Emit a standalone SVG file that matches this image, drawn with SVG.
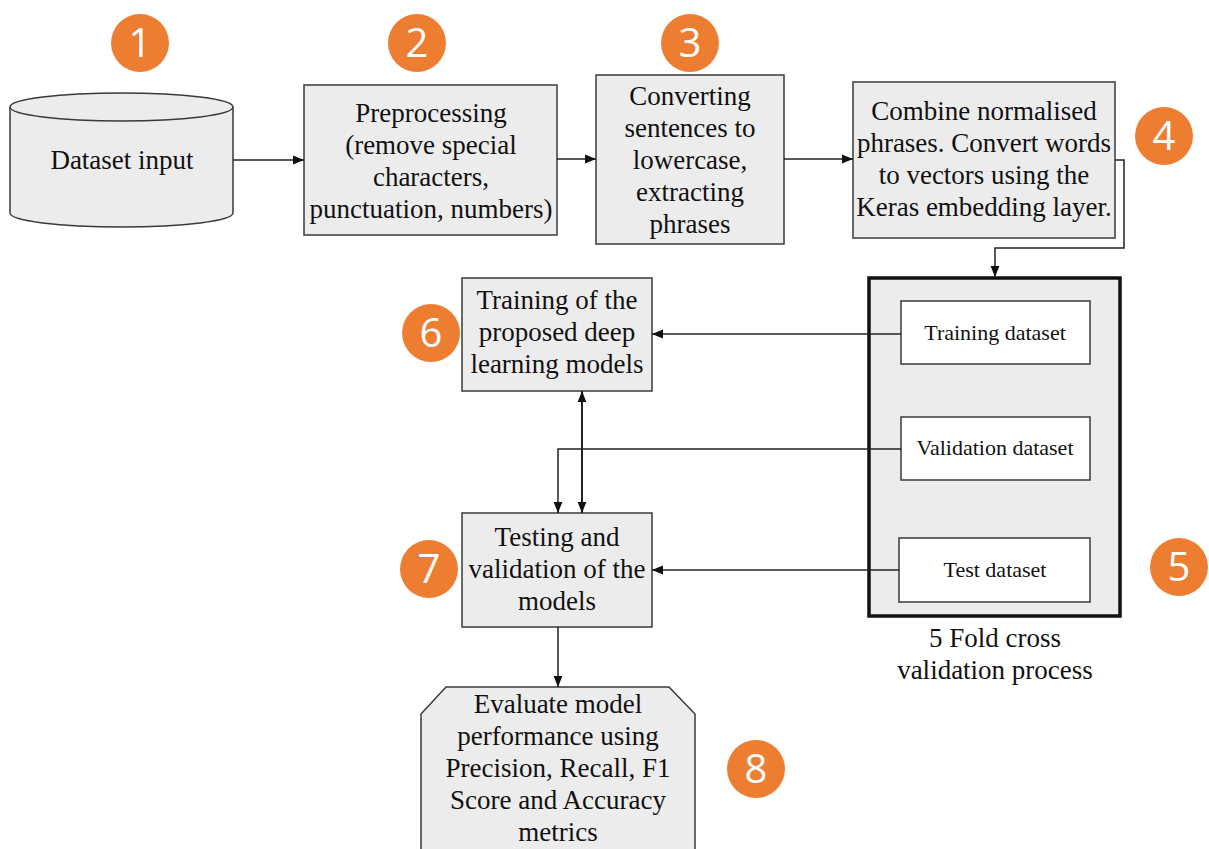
<svg xmlns="http://www.w3.org/2000/svg" width="1209" height="849" viewBox="0 0 1209 849">
<style>
.box{fill:#ececec;stroke:#3a3a3a;stroke-width:1.5}
.wbox{fill:#ffffff;stroke:#3a3a3a;stroke-width:1.5}
.tx{font-family:'Liberation Serif',serif;font-size:27px;fill:#111;text-anchor:middle}
.ts{font-family:'Liberation Serif',serif;font-size:22px;fill:#111;text-anchor:middle}
.badge{fill:#ED7D31}
.bnum{font-family:'Open Sans','Noto Sans',sans-serif;font-size:40px;fill:#fff;text-anchor:middle}
.c{fill:none;stroke:#222;stroke-width:1.5}
</style>
<defs>
<marker id="ah" viewBox="0 0 10 10" refX="10" refY="5" markerWidth="11" markerHeight="11" markerUnits="userSpaceOnUse" orient="auto-start-reverse">
<path d="M0,1 L10,5 L0,9 Z" fill="#111"/>
</marker>
</defs>
<rect width="1209" height="849" fill="#fff"/>

<g id="node-dataset">
<path class="box" d="M10,107 L10,213 A111.5,14 0 0 0 233,213 L233,107 A111.5,14 0 0 0 10,107 Z"/>
<path class="box" d="M10,107 A111.5,14 0 0 0 233,107"/>
<text class="tx" x="122" y="169">Dataset input</text>
</g>

<g id="node-preprocessing">
<rect class="box" x="304" y="85" width="253" height="150"/>
<text class="tx" x="431" y="122">Preprocessing</text>
<text class="tx" x="431" y="154">(remove special</text>
<text class="tx" x="431" y="186">characters,</text>
<text class="tx" x="431" y="218">punctuation, numbers)</text>
</g>

<g id="node-converting">
<rect class="box" x="596" y="75" width="188" height="169"/>
<text class="tx" x="690" y="105">Converting</text>
<text class="tx" x="690" y="137">sentences to</text>
<text class="tx" x="690" y="169">lowercase,</text>
<text class="tx" x="690" y="201">extracting</text>
<text class="tx" x="690" y="233">phrases</text>
</g>

<g id="node-combine">
<rect class="box" x="853" y="82" width="262" height="156"/>
<text class="tx" x="984" y="120">Combine normalised</text>
<text class="tx" x="984" y="152">phrases. Convert words</text>
<text class="tx" x="984" y="184">to vectors using the</text>
<text class="tx" x="984" y="216">Keras embedding layer.</text>
</g>

<g id="node-crossval">
<rect x="869" y="278" width="251" height="338" fill="#ececec" stroke="#111" stroke-width="3.5"/>
<text class="tx" x="995" y="647">5 Fold cross</text>
<text class="tx" x="995" y="679">validation process</text>
</g>

<g id="node-training-dataset">
<rect class="wbox" x="901" y="301" width="189" height="63"/>
<text class="ts" x="995" y="340">Training dataset</text>
</g>

<g id="node-validation-dataset">
<rect class="wbox" x="901" y="417" width="189" height="63"/>
<text class="ts" x="995" y="455">Validation dataset</text>
</g>

<g id="node-test-dataset">
<rect class="wbox" x="899" y="538" width="191" height="64"/>
<text class="ts" x="995" y="577">Test dataset</text>
</g>

<g id="node-training">
<rect class="box" x="462" y="278" width="190" height="113"/>
<text class="tx" x="557" y="309">Training of the</text>
<text class="tx" x="557" y="341">proposed deep</text>
<text class="tx" x="557" y="373">learning models</text>
</g>

<g id="node-testing">
<rect class="box" x="462" y="513" width="190" height="114"/>
<text class="tx" x="557" y="546">Testing and</text>
<text class="tx" x="557" y="578">validation of the</text>
<text class="tx" x="557" y="610">models</text>
</g>

<g id="node-evaluate">
<path class="box" d="M446,687 L669,687 L695,714 L695,852 L421,852 L421,714 Z"/>
<text class="tx" x="558" y="713">Evaluate model</text>
<text class="tx" x="558" y="745">performance using</text>
<text class="tx" x="558" y="777">Precision, Recall, F1</text>
<text class="tx" x="558" y="809">Score and Accuracy</text>
<text class="tx" x="558" y="841">metrics</text>
</g>

<g id="connectors">
<path class="c" d="M233,160 L304,160" marker-end="url(#ah)"/>
<path class="c" d="M557,159 L596,159" marker-end="url(#ah)"/>
<path class="c" d="M784,159 L853,159" marker-end="url(#ah)"/>
<path class="c" d="M1115,160 L1124,160 L1124,248 L995,248 L995,277" marker-end="url(#ah)"/>
<path class="c" d="M901,334 L652,334" marker-end="url(#ah)"/>
<path class="c" d="M582,391 L582,513" marker-start="url(#ah)" marker-end="url(#ah)" style="stroke-width:2"/>
<path class="c" d="M901,449 L558,449 L558,513" marker-end="url(#ah)"/>
<path class="c" d="M899,570 L652,570" marker-end="url(#ah)"/>
<path class="c" d="M558,627 L558,687" marker-end="url(#ah)"/>
</g>

<g id="badges">
<g id="badge-1"><circle class="badge" cx="140" cy="43" r="29"/><text class="bnum" x="140" y="57">1</text></g>
<g id="badge-2"><circle class="badge" cx="417" cy="43" r="29"/><text class="bnum" x="417" y="57">2</text></g>
<g id="badge-3"><circle class="badge" cx="690" cy="43" r="29"/><text class="bnum" x="690" y="57">3</text></g>
<g id="badge-4"><circle class="badge" cx="1164" cy="136" r="29"/><text class="bnum" x="1164" y="150">4</text></g>
<g id="badge-5"><circle class="badge" cx="1179" cy="567" r="29"/><text class="bnum" x="1179" y="581">5</text></g>
<g id="badge-6"><circle class="badge" cx="431" cy="333" r="29"/><text class="bnum" x="431" y="347">6</text></g>
<g id="badge-7"><circle class="badge" cx="429" cy="569" r="29"/><text class="bnum" x="429" y="583">7</text></g>
<g id="badge-8"><circle class="badge" cx="756" cy="769" r="29"/><text class="bnum" x="756" y="783">8</text></g>
</g>
</svg>
